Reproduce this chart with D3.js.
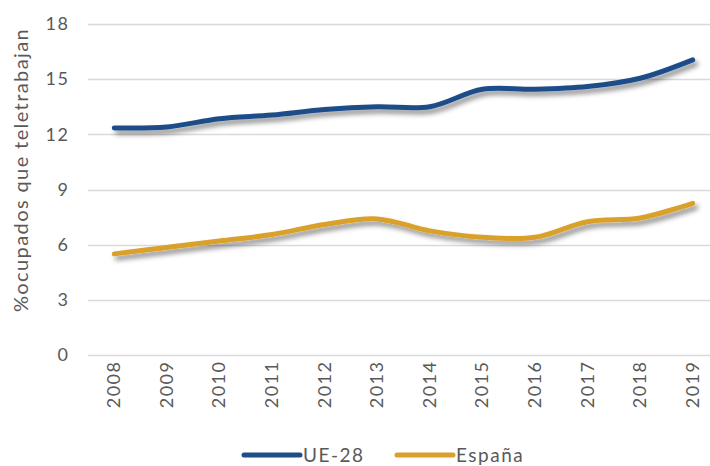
<!DOCTYPE html>
<html>
<head>
<meta charset="utf-8">
<script src="https://cdn.jsdelivr.net/npm/d3@7"></script>
<style>
html,body{margin:0;padding:0;background:#fff;}
svg{display:block;}
text{font-family:"Lato","Open Sans",sans-serif;fill:#595959;}
</style>
</head>
<body>
<svg id="chart" width="710" height="466"></svg>
<script>
const years = ["2008","2009","2010","2011","2012","2013","2014","2015","2016","2017","2018","2019"];
const ue28 = [12.35,12.4,12.85,13.05,13.35,13.5,13.5,14.45,14.45,14.6,15.05,16.05];
const espana = [5.5,5.85,6.2,6.55,7.1,7.4,6.75,6.4,6.4,7.25,7.45,8.25];
const yTicks = [0,3,6,9,12,15,18];
const seriesNames = ["UE-28","España"];
const seriesColors = ["#1F4E89","#D9A02C"];
const yTitle = "%ocupados que teletrabajan";

const svg = d3.select("#chart");
const x = d3.scaleBand().domain(years).range([88, 719]);
const y = d3.scaleLinear().domain([0,18]).range([355, 24]);
const cx = d => x(d) + x.bandwidth()/2;

const defs = svg.append("defs");
const f = defs.append("filter").attr("id","shadow").attr("x","-10%").attr("y","-50%").attr("width","120%").attr("height","200%");
f.append("feDropShadow").attr("dx",3).attr("dy",4).attr("stdDeviation",2.5).attr("flood-color","#000").attr("flood-opacity",0.45);

// gridlines
svg.append("g").selectAll("line").data(yTicks).join("line")
  .attr("x1",88).attr("x2",710)
  .attr("y1",d=>Math.round(y(d))+0.5).attr("y2",d=>Math.round(y(d))+0.5)
  .attr("stroke","#D9D9D9").attr("stroke-width",1.3);

// y axis labels
const yAxis = d3.axisLeft(y).tickValues(yTicks).tickSize(0).tickPadding(0);
const gy = svg.append("g").attr("transform","translate(68,0)").call(yAxis);
gy.select(".domain").remove();
gy.selectAll("text").attr("font-size",18).style("font-family","Lato,sans-serif")
  .attr("fill","#595959").style("letter-spacing","1.5px").attr("x",1.5);

// x axis labels
const xAxis = d3.axisBottom(x).tickSize(0).tickPadding(0);
const gx = svg.append("g").attr("transform","translate(0,362)").call(xAxis);
gx.select(".domain").remove();
gx.selectAll("text").attr("font-size",18).attr("fill","#595959").style("letter-spacing","1.5px")
  .attr("text-anchor","end").attr("dy",null).attr("y",0)
  .attr("transform","rotate(-90) translate(1.5,6)");

// y title
svg.append("text").attr("transform","translate(28,170) rotate(-90)")
  .attr("text-anchor","middle").attr("font-size",20).style("letter-spacing","1.4px").text(yTitle);

const line = d3.line().x((d,i)=>cx(years[i])).y(d=>y(d)).curve(d3.curveCatmullRom.alpha(0.5));
[ue28, espana].forEach((s,i)=>{
  svg.append("path").datum(s).attr("d",line).attr("fill","none")
    .attr("stroke",seriesColors[i]).attr("stroke-width",5).attr("stroke-linecap","round")
    .attr("filter","url(#shadow)");
});

// legend
const legX = [244, 397];
seriesNames.forEach((n,i)=>{
  svg.append("line").attr("x1",legX[i]).attr("x2",legX[i]+56).attr("y1",455).attr("y2",455)
    .attr("stroke",seriesColors[i]).attr("stroke-width",5).attr("stroke-linecap","round");
  svg.append("text").attr("x",legX[i]+59).attr("y",455).attr("dy","0.35em")
    .attr("font-size",19).style("letter-spacing","1.5px").text(n);
});
</script>
</body>
</html>
